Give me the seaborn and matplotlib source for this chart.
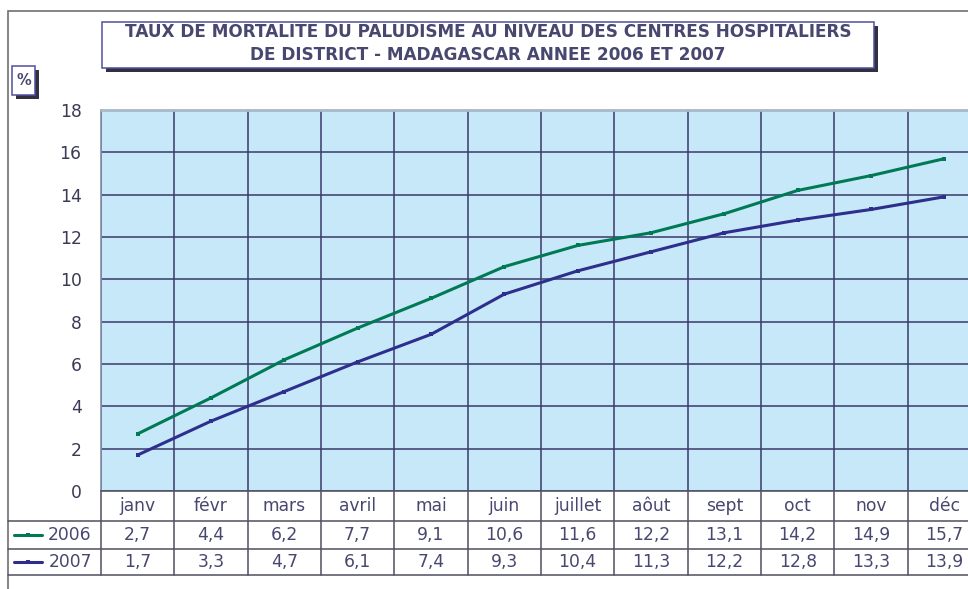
import numpy as np
import pandas as pd
import matplotlib
matplotlib.use("Agg")
import matplotlib.pyplot as plt
from matplotlib.patches import Rectangle
from matplotlib.lines import Line2D
import matplotlib.transforms as mtransforms
import seaborn as sns

sns.set_style("white")
plt.rcParams["font.family"] = ["DejaVu Sans"]

# Monthly malaria case-fatality rate (%) in district hospitals
mois = ["janv", "févr", "mars", "avril", "mai", "juin", "juillet",
        "aôut", "sept", "oct", "nov", "déc"]
annees = ["2006", "2007"]
taux_2006 = [2.7, 4.4, 6.2, 7.7, 9.1, 10.6, 11.6, 12.2, 13.1, 14.2, 14.9, 15.7]
taux_2007 = [1.7, 3.3, 4.7, 6.1, 7.4, 9.3, 10.4, 11.3, 12.2, 12.8, 13.3, 13.9]
y_ticks = [0, 2, 4, 6, 8, 10, 12, 14, 16, 18]
titre = ("TAUX DE MORTALITE DU PALUDISME AU NIVEAU DES CENTRES HOSPITALIERS\n"
         "DE DISTRICT - MADAGASCAR ANNEE 2006 ET 2007")

couleurs = {"2006": "#007A55", "2007": "#2E2E8C"}
txt_col = "#47476F"
grid_col = "#3A3A6A"
fs = 12.3

df = pd.DataFrame({
    "pos": list(range(len(mois))) * 2,
    "mois": mois * 2,
    "taux": taux_2006 + taux_2007,
    "annee": [annees[0]] * len(mois) + [annees[1]] * len(mois),
})

W, H = 968, 589
fig = plt.figure(figsize=(W / 100, H / 100), dpi=100)
fig.patch.set_facecolor("white")

def fx(px):
    return px / W

def fy(py):
    return 1 - py / H

# plot area (its right part runs past the figure edge)
ax_l, ax_r, ax_t, ax_b = 101, 981, 110, 491
ax = fig.add_axes([fx(ax_l), fy(ax_b), (ax_r - ax_l) / W, (ax_b - ax_t) / H])
ax.set_facecolor("#C7E8F8")

sns.lineplot(data=df, x="pos", y="taux", hue="annee", palette=couleurs,
             marker="s", markersize=3.5, markeredgewidth=0, linewidth=2.2,
             legend=False, ax=ax, zorder=3)

ax.set_xlim(-0.5, len(mois) - 0.5)
ax.set_ylim(0, 18)
ax.set_yticks(y_ticks)
ax.set_yticklabels([str(v) for v in y_ticks], fontsize=fs, color="#3A3A55")
ax.set_xticks(np.arange(-0.5, len(mois), 1))
ax.set_xticklabels([])
ax.tick_params(axis="x", length=0)
ax.tick_params(axis="y", length=6, width=1, color="#555566", pad=8, direction="out")
ax.grid(True, color=grid_col, linewidth=1.1)
ax.set_axisbelow(True)
ax.set_xlabel("")
ax.set_ylabel("")
for side in ["top", "right"]:
    ax.spines[side].set_visible(False)
ax.spines["left"].set_color("#8090A8")
ax.spines["left"].set_linewidth(1.2)
ax.spines["bottom"].set_color("#555566")
ax.spines["bottom"].set_linewidth(1.2)
ax.axhline(18, color="#A8B8C8", linewidth=2, zorder=4, clip_on=False)

# data table beneath the plot
rows_px = [491, 521, 549, 575]
h_ax = ax_b - ax_t
rows_ax = [(ax_b - r) / h_ax for r in rows_px]
blend = mtransforms.blended_transform_factory(ax.transData, ax.transAxes)
for k in range(len(mois) + 1):
    ax.add_line(Line2D([k - 0.5, k - 0.5], [rows_ax[0], rows_ax[-1]],
                       transform=blend, color="#505060", linewidth=1.1, clip_on=False))
for r in rows_px[1:]:
    fig.add_artist(Line2D([fx(8), fx(W + 20)], [fy(r), fy(r)],
                          transform=fig.transFigure, color="#505060", linewidth=1.1))

def fmt(v):
    return f"{v:.1f}".replace(".", ",")

for i, m in enumerate(mois):
    ax.text(i, (rows_ax[0] + rows_ax[1]) / 2, m, transform=blend, ha="center",
            va="center", fontsize=fs, color=txt_col)
    ax.text(i, (rows_ax[1] + rows_ax[2]) / 2, fmt(taux_2006[i]),
            transform=blend, ha="center", va="center", fontsize=fs, color=txt_col)
    ax.text(i, (rows_ax[2] + rows_ax[3]) / 2, fmt(taux_2007[i]),
            transform=blend, ha="center", va="center", fontsize=fs, color=txt_col)

# legend keys in the table's first column
for j, an in enumerate(annees):
    yc = fy((rows_px[j + 1] + rows_px[j + 2]) / 2)
    fig.add_artist(Line2D([fx(14), fx(42)], [yc, yc], transform=fig.transFigure,
                          color=couleurs[an], linewidth=2.2))
    fig.add_artist(Line2D([fx(28)], [yc], transform=fig.transFigure, marker="s",
                          markersize=3.5, markeredgewidth=0, color=couleurs[an]))
    fig.text(fx(70), yc, an, ha="center", va="center", fontsize=fs, color=txt_col)

# outer chart frame
fig.add_artist(Rectangle((fx(8), fy(H + 10)), fx(W + 20), fy(11) - fy(H + 10),
                         transform=fig.transFigure, fill=False,
                         edgecolor="#707070", linewidth=1.2))

# boxed labels with drop shadow
def boite(x0, y0, x1, y1):
    fig.add_artist(Rectangle((fx(x0 + 4), fy(y1 + 4)), fx(x1 - x0), fy(y0) - fy(y1),
                             transform=fig.transFigure, facecolor="#303040",
                             edgecolor="none", zorder=5))
    fig.add_artist(Rectangle((fx(x0), fy(y1)), fx(x1 - x0), fy(y0) - fy(y1),
                             transform=fig.transFigure, facecolor="white",
                             edgecolor="#5050A0", linewidth=1.1, zorder=6))

boite(102, 22, 874, 68)
fig.text(fx(488), fy(43.5), titre, ha="center", va="center", fontsize=12.2,
         fontweight="bold", color=txt_col, linespacing=1.4, zorder=7)

boite(12, 66, 35, 95)
fig.text(fx(23.5), fy(80.5), "%", ha="center", va="center", fontsize=10.5,
         fontweight="bold", color=txt_col, zorder=7)

fig.savefig("out.png", dpi=100, facecolor="white")
